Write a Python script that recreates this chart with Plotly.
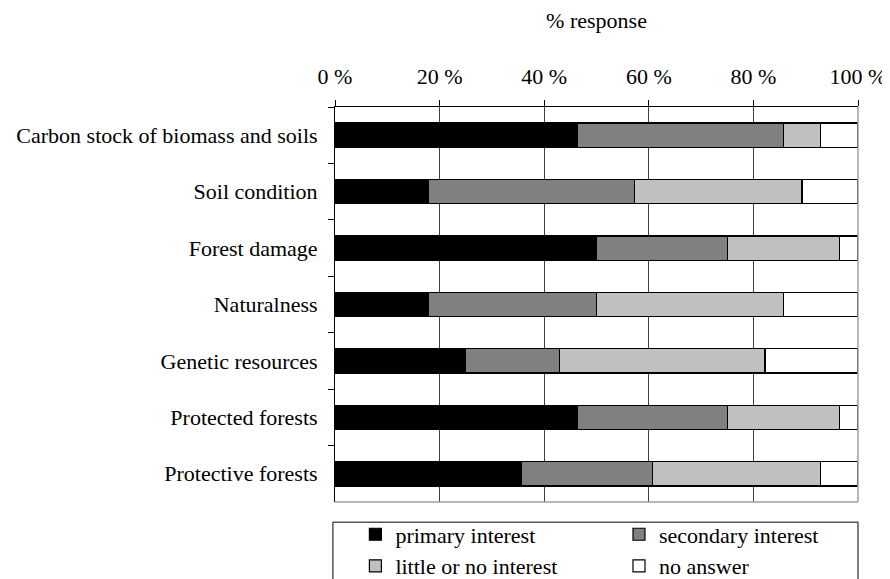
import plotly.graph_objects as go

# topics, top to bottom as in the chart
topics = ["Carbon stock of biomass and soils", "Soil condition", "Forest damage",
          "Naturalness", "Genetic resources", "Protected forests", "Protective forests"]

# % of responses per answer class
primary = [46.4, 17.9, 50.0, 17.9, 25.0, 46.4, 35.7]
secondary = [39.3, 39.3, 25.0, 32.1, 17.9, 28.6, 25.0]
little = [7.1, 32.1, 21.4, 35.7, 39.3, 21.4, 32.1]
no_answer = [7.2, 10.7, 3.6, 14.3, 17.8, 3.6, 7.2]

tick_vals = [0, 20, 40, 60, 80, 100]
tick_text = ["0 %", "20 %", "40 %", "60 %", "80 %", "100 %"]

# name, values, fill, which legend column
series = [("primary interest", primary, "#000000", "legend"),
          ("secondary interest", secondary, "#808080", "legend2"),
          ("little or no interest", little, "#c0c0c0", "legend"),
          ("no answer", no_answer, "#ffffff", "legend2")]

FONT = "Liberation Serif, Times New Roman, serif"

fig = go.Figure()
for name, vals, color, leg in series:
    fig.add_trace(go.Bar(y=topics, x=vals, name=name, orientation="h", legend=leg,
                         marker=dict(color=color, line=dict(color="#000000", width=1.2))))

legend_style = dict(orientation="v", yanchor="top", xanchor="left", y=-0.029,
                    bgcolor="rgba(0,0,0,0)", font=dict(size=22), itemwidth=30,
                    traceorder="normal", tracegroupgap=0)

# page body has an 8px margin, so the margins here are 8px less on the left/top
fig.update_layout(
    width=890, height=579,
    margin=dict(l=327, r=40, t=99, b=85, autoexpand=False),
    barmode="stack", bargap=0.57,
    plot_bgcolor="white", paper_bgcolor="white",
    font=dict(family=FONT, size=22, color="black"),
    showlegend=True,
    legend=dict(x=0.039, **legend_style),
    legend2=dict(x=0.543, **legend_style),
)

fig.update_xaxes(side="top", range=[0, 100], tickvals=tick_vals, ticktext=tick_text,
                 ticks="outside", ticklen=6, tickcolor="black", ticklabelstandoff=7,
                 showgrid=True, gridcolor="#404040", gridwidth=1, zeroline=False,
                 showline=True, linecolor="black", linewidth=1,
                 title=dict(text="% response", standoff=30, font=dict(size=22)))
fig.update_yaxes(autorange="reversed", tickson="boundaries", ticks="outside", ticklen=6,
                 tickcolor="black", showgrid=False, showline=True, linecolor="black",
                 linewidth=1, ticklabelstandoff=12)

# gray frame on the right and bottom of the plot area
fig.add_shape(type="line", xref="paper", yref="paper", x0=1, x1=1, y0=0, y1=1,
              line=dict(color="#a0a0a0", width=1.5))
fig.add_shape(type="line", xref="paper", yref="paper", x0=0, x1=1, y0=0, y1=0,
              line=dict(color="#a0a0a0", width=1.5))
# legend box (runs off the bottom of the image)
fig.add_shape(type="rect", xref="paper", yref="paper", x0=-0.004, x1=1, y0=-0.051, y1=-0.3,
              line=dict(color="black", width=1))

fig.write_html("out.html")
